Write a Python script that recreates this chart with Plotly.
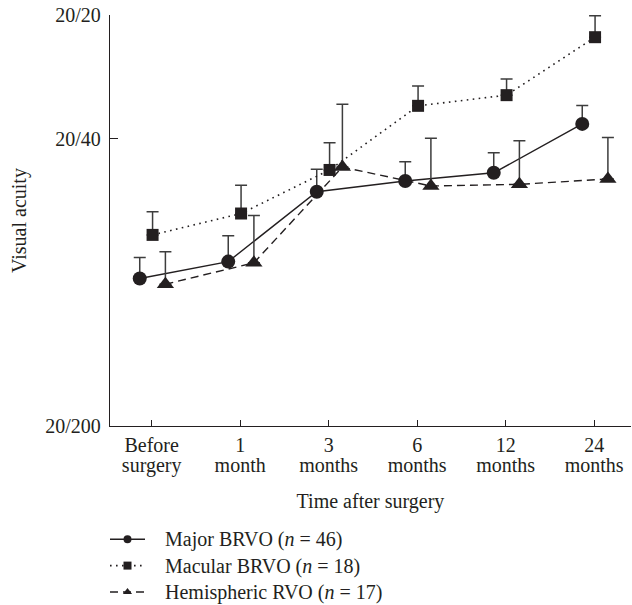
import plotly.graph_objects as go

# ---- data (logMAR; 20/20 = 0, 20/40 = 0.301, 20/200 = 1.0) ----
categories = ["Before<br>surgery", "1<br>month", "3<br>months", "6<br>months", "12<br>months", "24<br>months"]

major_brvo = [0.641, 0.600, 0.430, 0.404, 0.384, 0.265]
major_brvo_err = [0.051, 0.063, 0.055, 0.047, 0.049, 0.045]

macular_brvo = [0.535, 0.483, 0.377, 0.221, 0.195, 0.054]
macular_brvo_err = [0.056, 0.069, 0.066, 0.048, 0.039, 0.052]

hemi_rvo = [0.655, 0.603, 0.370, 0.416, 0.412, 0.399]
hemi_rvo_err = [0.079, 0.115, 0.153, 0.116, 0.106, 0.101]

ytick_vals = [0.0, 0.30103, 1.0]
ytick_text = ["20/20", "20/40", "20/200"]

legend_names = ["Major BRVO (<i>n</i> = 46)", "Macular BRVO (<i>n</i> = 18)", "Hemispheric RVO (<i>n</i> = 17)"]

# ---- style ----
INK = "#231f20"
ERR = "#3d3d3d"
FONT = "Liberation Serif"
BIG = "font-size:20px"

def big(t, pad=""):
    return "<br>".join(f"<span style='{BIG}'>{pad}{p}</span>" for p in t.split("<br>"))

idx = list(range(len(categories)))
offsets = {"major": -0.135, "macular": 0.01, "hemi": 0.155}

W, H = 632, 605
L, R, T, B = 110, 1, 15, 179

fig = go.Figure()

series = [
    ("major", major_brvo, major_brvo_err, "circle", 14, dict(color=INK, width=1.4, dash="solid")),
    ("macular", macular_brvo, macular_brvo_err, "square", 12, dict(color=INK, width=1.6, dash="1.6px,4.4px")),
    ("hemi", hemi_rvo, hemi_rvo_err, "triangle-up", 15, dict(color=INK, width=1.4, dash="8px,5px")),
]

for (key, vals, errs, sym, sz, line), name in zip(series, legend_names):
    xs = [i + offsets[key] for i in idx]
    fig.add_trace(go.Scatter(
        x=xs, y=vals, mode="lines+markers", showlegend=False,
        line=line,
        marker=dict(symbol=sym, size=sz, color=INK),
        error_y=dict(type="data", symmetric=False, array=[0] * len(errs), arrayminus=errs,
                     color=ERR, thickness=1.5, width=6),
    ))
    # legend-only entry with small markers
    fig.add_trace(go.Scatter(
        x=[None], y=[None], mode="lines+markers", name=big(name, "\u00a0\u00a0\u00a0"),
        line=line, marker=dict(symbol=sym, size=8, color=INK),
    ))

fig.update_layout(
    width=W, height=H,
    margin=dict(l=L, r=R, t=T, b=B, autoexpand=False),
    paper_bgcolor="white", plot_bgcolor="white",
    font=dict(family=FONT, size=20, color=INK),
    showlegend=True,
    legend=dict(
        x=105 / W, y=1 - 521 / H, xref="container", yref="container",
        xanchor="left", yanchor="top",
        font=dict(family=FONT, size=18, color=INK),
        bgcolor="rgba(0,0,0,0)", itemwidth=35, tracegroupgap=0,
    ),
    annotations=[dict(
        text="Visual acuity", textangle=-90, showarrow=False,
        xref="paper", yref="paper", x=(19.5 - L) / (W - L - R), y=0.5,
        xanchor="center", yanchor="middle",
        font=dict(family=FONT, size=20, color=INK),
    )],
)

fig.update_xaxes(
    range=[-0.471, 5.416], tickmode="array", tickvals=idx,
    ticktext=[big(c) for c in categories], tickangle=0,
    tickfont=dict(family=FONT, size=15.5, color=INK),
    ticklabelstandoff=6,
    showline=True, linecolor=INK, linewidth=1.3,
    ticks="inside", ticklen=6, tickcolor=INK, tickwidth=1.2,
    showgrid=False, zeroline=False,
    title=dict(text="Time after surgery", font=dict(family=FONT, size=20, color=INK), standoff=18),
)

fig.update_yaxes(
    range=[1.0, 0.0], tickmode="array", tickvals=ytick_vals, ticktext=ytick_text,
    tickfont=dict(family=FONT, size=20, color=INK),
    ticklabeloverflow="allow",
    showline=True, linecolor=INK, linewidth=1.3,
    ticks="inside", ticklen=8, tickcolor=INK, tickwidth=1.2,
    ticklabelstandoff=4,
    showgrid=False, zeroline=False,
)

fig.write_html("out.html", config={"displayModeBar": False},
               post_script="document.body.style.margin='0px';")
